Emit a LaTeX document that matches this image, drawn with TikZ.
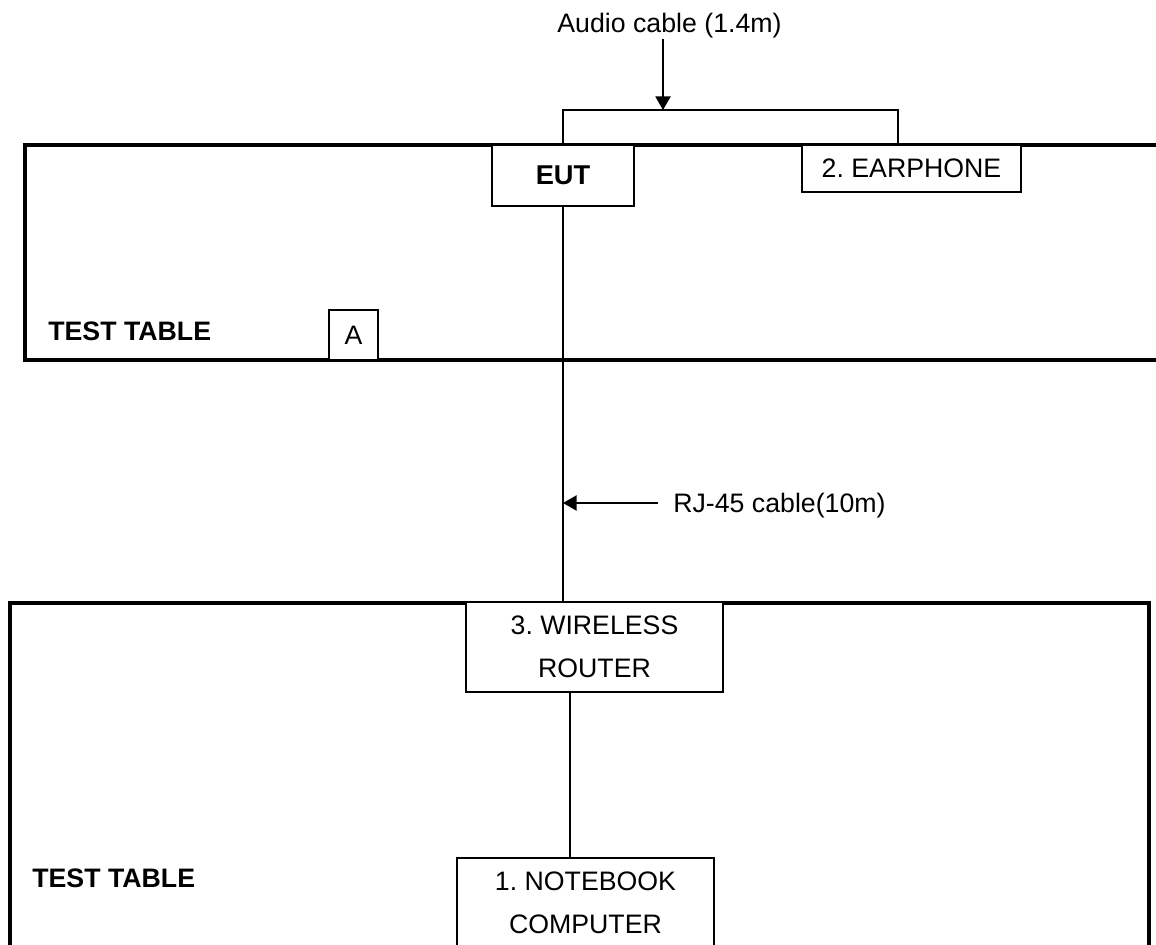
\documentclass[tikz,border=0pt]{standalone}
\usepackage{fontspec}
\setmainfont{Liberation Sans}
\usetikzlibrary{arrows.meta}
\frenchspacing
\begin{document}
\begin{tikzpicture}[x=0.02cm,y=-0.02cm,
  thinline/.style={line width=1.1pt},
  tablebox/.style={line width=2.3pt},
  devbox/.style={draw, thinline, fill=white, inner sep=0pt, align=center,
    font=\fontsize{15.2}{24.5}\selectfont},
  lbl/.style={inner sep=0pt, font=\fontsize{15.2}{18}\selectfont},
  blbl/.style={inner sep=0pt, font=\fontsize{15.2}{18}\selectfont\bfseries},
  arr/.style={thinline, -{Triangle[length=0.27cm,width=0.3cm]}}
]
\useasboundingbox (0,0) rectangle (1156,945);
\clip (0,0) rectangle (1156,945);
% tables
\draw[tablebox] (25,145) rectangle (1200,360);
\draw[tablebox] (10,603) rectangle (1149,1000);
% devices
\node[devbox, minimum width=2.84cm, minimum height=1.22cm, font=\fontsize{15.5}{18}\selectfont\bfseries] (eut) at (563,175.5) {EUT};
\node[devbox, minimum width=4.38cm, minimum height=0.94cm] (ear) at (911.5,168.5) {2. EARPHONE};
\node[devbox, minimum width=0.98cm, minimum height=1.0cm] (abox) at (353.5,335) {A};
\node[devbox, minimum width=5.14cm, minimum height=1.8cm] (router) at (594.5,647) {3. WIRELESS\\ROUTER};
\node[devbox, minimum width=5.14cm, minimum height=1.8cm] (nb) at (585.5,903) {1. NOTEBOOK\\COMPUTER};
% labels
\node[blbl, anchor=base west] (tt1) at (48,341) {TEST TABLE};
\node[blbl, anchor=base west] (tt2) at (32,887) {TEST TABLE};
\node[lbl, anchor=base] (audio) at (669.5,33) {Audio cable (1.4m)};
\node[lbl, anchor=base west] (rj) at (673,513) {RJ-45 cable(10m)};
% coordinates
\coordinate (bl) at (563,110);
\coordinate (brr) at (898,110);
\coordinate (atip) at (663,110);
\coordinate (astart) at (663,39);
\coordinate (rjs) at (658,503);
\coordinate (rjt) at (563,503);
\coordinate (rn) at (570,0);
% connectors
\draw[thinline] (eut.north) -- (bl) -- (brr) -- (brr |- ear.north);
\draw[arr] (astart) -- (atip);
\draw[thinline] (eut.south) -- (router.north -| eut.south);
\draw[arr] (rjs) -- (rjt);
\draw[thinline] (router.south -| rn) -- (nb.north -| rn);
\end{tikzpicture}
\end{document}
